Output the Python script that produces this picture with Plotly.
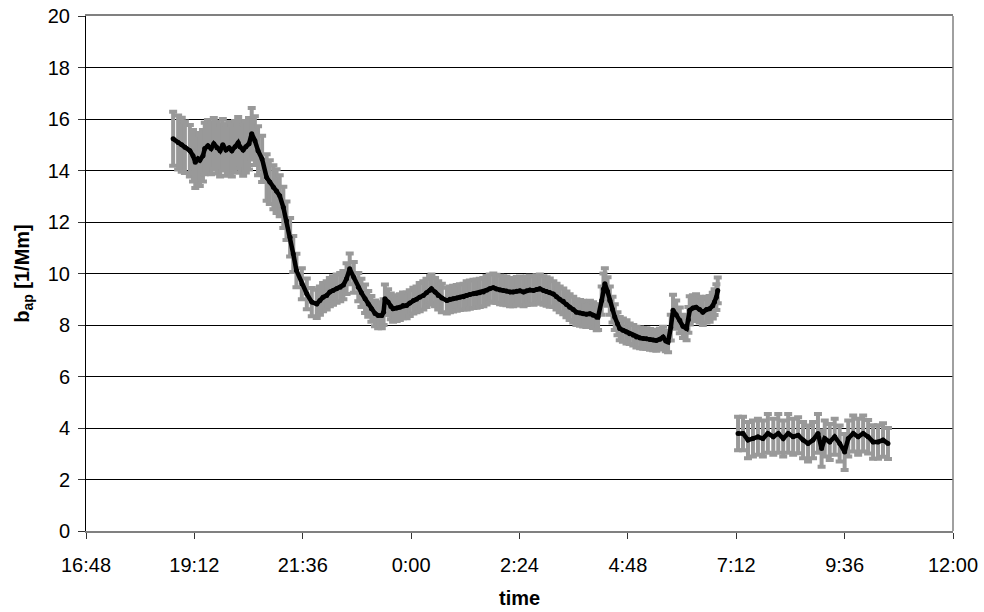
import plotly.graph_objects as go

# time in hours since midnight of the first day (values > 24 are on the next day)
time1 = [18.73, 18.84, 18.92, 18.99, 19.10, 19.17, 19.22, 19.28, 19.32, 19.39,
         19.43, 19.50, 19.57, 19.63, 19.70, 19.77, 19.83, 19.90, 19.97, 20.03,
         20.10, 20.17, 20.21, 20.28, 20.34, 20.41, 20.47, 20.54, 20.61, 20.70,
         20.80, 20.87, 20.95, 21.02, 21.09, 21.17, 21.24, 21.32, 21.39, 21.46,
         21.58, 21.69, 21.80, 21.91, 21.98, 22.05, 22.13, 22.20, 22.27, 22.35,
         22.43, 22.50, 22.57, 22.64, 22.73, 22.83, 22.90, 22.98, 23.05, 23.12,
         23.20, 23.27, 23.35, 23.39, 23.42, 23.49, 23.55, 23.60, 23.68, 23.75,
         23.82, 23.90, 23.97, 24.05, 24.12, 24.19, 24.27, 24.34, 24.42, 24.45,
         24.53, 24.60, 24.68, 24.79, 24.86, 24.93, 25.01, 25.08, 25.16, 25.23,
         25.30, 25.38, 25.45, 25.52, 25.60, 25.67, 25.74, 25.82, 25.89, 25.97,
         26.04, 26.11, 26.19, 26.26, 26.34, 26.41, 26.49, 26.56, 26.63, 26.71,
         26.78, 26.85, 26.93, 27.00, 27.07, 27.15, 27.22, 27.29, 27.37, 27.44,
         27.51, 27.59, 27.66, 27.74, 27.81, 27.88, 27.96, 28.03, 28.11, 28.14,
         28.22, 28.26, 28.29, 28.35, 28.40, 28.46, 28.51, 28.57, 28.62, 28.69,
         28.77, 28.84, 28.92, 28.99, 29.07, 29.14, 29.21, 29.29, 29.36, 29.43,
         29.51, 29.58, 29.64, 29.69, 29.75, 29.80, 29.87, 29.95, 30.02, 30.10,
         30.14, 30.17, 30.24, 30.31, 30.39, 30.46, 30.54, 30.61, 30.68, 30.72,
         30.76, 30.79]
bap1 = [15.23, 15.09, 15.00, 14.90, 14.77, 14.57, 14.32, 14.46, 14.40, 14.57,
        14.85, 14.96, 14.85, 15.04, 14.88, 14.77, 15.00, 14.80, 14.88, 14.77,
        14.92, 15.08, 14.92, 14.80, 14.92, 15.04, 15.43, 15.16, 14.77, 14.45,
        13.73, 13.55, 13.35, 13.20, 13.02, 12.57, 12.05, 11.41, 10.76, 10.12,
        9.60, 9.21, 8.89, 8.82, 8.95, 9.08, 9.15, 9.28, 9.34, 9.41,
        9.47, 9.55, 9.80, 10.18, 9.85, 9.47, 9.25, 9.02, 8.82, 8.63,
        8.45, 8.37, 8.37, 8.50, 9.02, 8.89, 8.72, 8.63, 8.66, 8.69,
        8.76, 8.76, 8.85, 8.95, 9.00, 9.08, 9.15, 9.25, 9.35, 9.41,
        9.28, 9.15, 9.05, 8.95, 9.00, 9.02, 9.05, 9.08, 9.10, 9.15,
        9.18, 9.21, 9.22, 9.25, 9.28, 9.35, 9.41, 9.45, 9.40, 9.36,
        9.34, 9.32, 9.28, 9.28, 9.31, 9.33, 9.28, 9.33, 9.36, 9.34,
        9.38, 9.41, 9.34, 9.30, 9.26, 9.20, 9.10, 9.00, 8.92, 8.80,
        8.69, 8.60, 8.50, 8.47, 8.44, 8.42, 8.44, 8.38, 8.30, 8.31,
        8.95, 9.40, 9.60, 9.30, 8.95, 8.60, 8.31, 8.05, 7.86, 7.80,
        7.73, 7.66, 7.60, 7.53, 7.50, 7.48, 7.47, 7.44, 7.42, 7.40,
        7.45, 7.53, 7.38, 7.34, 7.90, 8.57, 8.40, 8.18, 7.95, 7.86,
        8.20, 8.57, 8.66, 8.69, 8.60, 8.50, 8.60, 8.63, 8.75, 8.89,
        9.08, 9.34]
err1 = [1.05, 1.05, 1.05, 1.0, 1.0, 1.0, 1.0, 1.0, 1.0, 1.0,
        1.0, 1.0, 1.0, 1.0, 1.0, 1.0, 1.0, 1.0, 1.0, 1.0,
        1.0, 1.0, 1.0, 1.0, 1.0, 1.0, 1.0, 0.95, 0.95, 0.9,
        0.9, 0.85, 0.85, 0.85, 0.8, 0.8, 0.75, 0.75, 0.7, 0.65,
        0.6, 0.6, 0.55, 0.55, 0.55, 0.55, 0.55, 0.55, 0.55, 0.55,
        0.55, 0.55, 0.6, 0.6, 0.6, 0.55, 0.55, 0.55, 0.5, 0.5,
        0.5, 0.5, 0.5, 0.5, 0.55, 0.5, 0.5, 0.5, 0.5, 0.5,
        0.5, 0.5, 0.5, 0.5, 0.5, 0.55, 0.55, 0.55, 0.55, 0.55,
        0.55, 0.55, 0.55, 0.5, 0.5, 0.5, 0.5, 0.5, 0.5, 0.55,
        0.55, 0.55, 0.55, 0.55, 0.55, 0.55, 0.55, 0.55, 0.55, 0.55,
        0.55, 0.55, 0.55, 0.55, 0.55, 0.55, 0.55, 0.55, 0.55, 0.55,
        0.55, 0.55, 0.55, 0.55, 0.55, 0.5, 0.5, 0.5, 0.5, 0.5,
        0.5, 0.5, 0.5, 0.5, 0.5, 0.5, 0.5, 0.5, 0.5, 0.5,
        0.55, 0.6, 0.6, 0.55, 0.55, 0.5, 0.5, 0.45, 0.45, 0.45,
        0.45, 0.4, 0.4, 0.4, 0.4, 0.4, 0.4, 0.4, 0.4, 0.4,
        0.4, 0.4, 0.4, 0.4, 0.5, 0.6, 0.55, 0.5, 0.45, 0.45,
        0.5, 0.55, 0.5, 0.5, 0.5, 0.5, 0.5, 0.5, 0.5, 0.5,
        0.5, 0.5]

time2 = [31.24, 31.35, 31.46, 31.57, 31.68, 31.79, 31.90, 32.02, 32.13, 32.24,
         32.35, 32.46, 32.57, 32.68, 32.79, 32.90, 33.01, 33.09, 33.16, 33.27,
         33.38, 33.49, 33.60, 33.68, 33.79, 33.90, 34.01, 34.12, 34.23, 34.34,
         34.45, 34.56]
bap2 = [3.79, 3.79, 3.53, 3.59, 3.66, 3.59, 3.79, 3.66, 3.79, 3.59,
        3.79, 3.66, 3.72, 3.53, 3.40, 3.53, 3.79, 3.20, 3.59, 3.46,
        3.66, 3.40, 3.07, 3.59, 3.79, 3.66, 3.79, 3.66, 3.46, 3.46,
        3.53, 3.40]
err2 = [0.65, 0.65, 0.7, 0.7, 0.7, 0.7, 0.75, 0.7, 0.75, 0.7,
        0.75, 0.7, 0.7, 0.7, 0.7, 0.7, 0.75, 0.7, 0.7, 0.7,
        0.7, 0.7, 0.7, 0.7, 0.7, 0.7, 0.7, 0.65, 0.65, 0.65,
        0.65, 0.6]

tick_hours = [16.8, 19.2, 21.6, 24.0, 26.4, 28.8, 31.2, 33.6, 36.0]
tick_labels = ["16:48", "19:12", "21:36", "0:00", "2:24", "4:48", "7:12", "9:36", "12:00"]
y_ticks = [0, 2, 4, 6, 8, 10, 12, 14, 16, 18, 20]

GRAY = "#999999"
fig = go.Figure()
for t, b, e in [(time1, bap1, err1), (time2, bap2, err2)]:
    fig.add_trace(go.Scatter(
        x=t, y=b, mode="lines+markers",
        line=dict(color="black", width=4.5),
        marker=dict(color="black", size=5),
        error_y=dict(type="data", array=e, visible=True, color=GRAY,
                     thickness=4, width=4),
        showlegend=False, hoverinfo="x+y",
    ))

font = "Liberation Sans, Arial, sans-serif"
fig.update_layout(
    width=984, height=612,
    margin=dict(l=86, r=31, t=16, b=81),
    paper_bgcolor="white", plot_bgcolor="white",
    font=dict(family=font, size=20, color="black"),
    xaxis=dict(
        range=[16.8, 36.0], tickvals=tick_hours, ticktext=tick_labels,
        showgrid=False, zeroline=False, automargin=False,
        showline=True, linecolor="#808080", linewidth=2, mirror=True,
        ticks="outside", ticklen=6, tickcolor="#333333", tickwidth=1,
        ticklabelstandoff=9, ticklabeloverflow="allow",
        tickfont=dict(size=20),
    ),
    yaxis=dict(
        range=[0, 20], tickvals=y_ticks, automargin=False,
        showgrid=True, gridcolor="#000000", gridwidth=1, zeroline=False,
        showline=True, linecolor="#000000", linewidth=1,
        ticks="outside", ticklen=7, tickcolor="#333333", tickwidth=1,
        ticklabelstandoff=4, ticklabeloverflow="allow",
        tickfont=dict(size=20),
        title=dict(text="<b>b<sub>ap</sub> [1/Mm]</b>", font=dict(size=20), standoff=12),
    ),
    annotations=[dict(text="<b>time</b>", xref="paper", yref="paper", x=0.5, y=0,
                      xanchor="center", yanchor="middle", yshift=-67,
                      showarrow=False, font=dict(size=20))],
    shapes=[dict(type="line", xref="paper", yref="paper", x0=1, x1=1, y0=0, y1=1,
                 line=dict(color="#808080", width=1.5))],
)

fig.write_html("out.html", config={"displayModeBar": False},
               post_script="document.body.style.margin='0';")
